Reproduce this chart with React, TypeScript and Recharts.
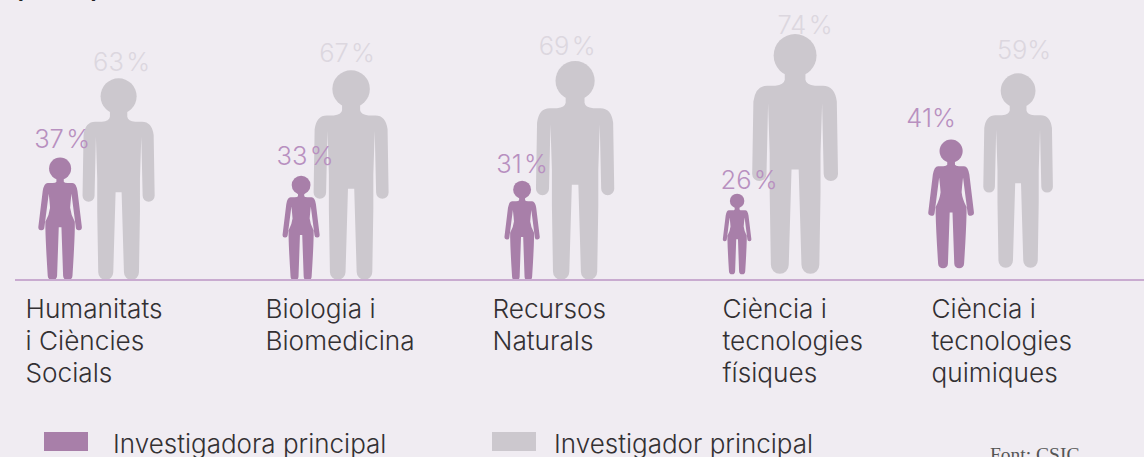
import React from "react";
import { BarChart, Bar, XAxis, YAxis, Legend } from "recharts";

const W = 1144, H = 457;
const categories = ["Humanitats\ni Ciències\nSocials", "Biologia i\nBiomedicina", "Recursos\nNaturals", "Ciència i\ntecnologies\nfísiques", "Ciència i\ntecnologies\nquimiques"];
const womenValues = [37, 33, 31, 26, 41];
const menValues = [63, 67, 69, 74, 59];
const womenLabels = ["37\u200a%", "33\u200a%", "31\u200a%", "26\u200a%", "41%"];
const menLabels = ["63\u200a%", "67\u200a%", "69\u200a%", "74\u200a%", "59%"];
const data = categories.map((category, i) => ({ category, women: womenValues[i], men: menValues[i] }));

// Layout / style adjustments of the hand-placed pictograms
const BG = "#f0ecf2", WOMAN = "#a87fa9", MAN = "#ccc8ce", WOMAN_TXT = "#b890c0", MAN_TXT = "#dcd7df", LINE = "#c9abd0", INK = "#333033";
const FONT = "Inter, sans-serif";
const groupLift = [0, 0, 0, 6, 12];
const womanNudge = [-67.9, -52.7, -57.5, -68.3, -80.1];
const manNudge = [-9.4, -2.7, -4.5, -10.3, -13.1];
const womanStature = [1.04, 0.994, 1.007, 0.971, 0.985];
const manStature = [1.006, 0.984, 0.997, 1.019, 1.037];
const womanLabelDx = [2, 4, 0, 12, -20];
const manLabelDx = [3, -4, -8, 10, 6];
const womanLabelGap = [10, 11, 8, 5, 13];
const manLabelGap = [7, 8, 6, 0, 14];
const tickNudge = [-102.4, -88.2, -87, -82.8, -99.6];

const MAN_BODY = "M26,100 L26,115 Q28,128 50,130 L70,130 Q100,130 105,170 L108,352 A18,18 0 0 1 72,352 L68,175 L64,300 L64,400 L61,581 A22.5,22.5 0 0 1 16,581 L9,341 L-9,341 L-16,581 A22.5,22.5 0 0 1 -61,581 L-64,400 L-64,300 L-68,175 L-72,352 A18,18 0 0 1 -108,352 L-105,170 Q-100,130 -70,130 L-50,130 Q-28,128 -26,115 L-26,100 Z";
const WOMAN_BODY = "M11,60 L11,72 Q13,76 22,76 L37,76 Q48,76 52,100 L65,207 A9,9 0 0 1 47,209 L34,108 Q31,135 30,150 Q32,170 44,192 L44,210 Q43,260 37,353 A14,14 0 0 1 9,353 L4,208 L-4,208 L-9,353 A14,14 0 0 1 -37,353 Q-43,260 -44,210 L-44,192 Q-32,170 -30,150 Q-31,135 -34,108 L-47,209 A9,9 0 0 1 -65,207 L-52,100 Q-48,76 -37,76 L-22,76 Q-13,76 -11,72 L-11,60 Z";

function figure(kind: "woman" | "man") {
  const isWoman = kind === "woman";
  const nudge = isWoman ? womanNudge : manNudge;
  const stature = isWoman ? womanStature : manStature;
  const labelDx = isWoman ? womanLabelDx : manLabelDx;
  const labelGap = isWoman ? womanLabelGap : manLabelGap;
  const labels = isWoman ? womenLabels : menLabels;
  const unit = isWoman ? 366 : 604;
  return (props: any) => {
    const { x, y, width, height, index, fill } = props;
    const cx = x + width / 2 + nudge[index];
    const bottom = y + height - groupLift[index];
    const h = height * stature[index];
    const top = bottom - h;
    const s = h / unit;
    return (
      <g>
        <text x={cx + labelDx[index]} y={top - labelGap[index]} textAnchor="middle" fontFamily={FONT} fontWeight={300} fontSize={25.5} fill={isWoman ? WOMAN_TXT : MAN_TXT}>
          {labels[index]}
        </text>
        <g transform={`translate(${cx},${top}) scale(${s})`} fill={fill}>
          {isWoman ? <circle cx={0} cy={33} r={33} /> : <circle cx={0} cy={54} r={54} />}
          <path d={isWoman ? WOMAN_BODY : MAN_BODY} />
        </g>
      </g>
    );
  };
}

const CategoryTick = (props: any) => {
  const { x, y, index, payload } = props;
  const lines = String(payload.value).split("\n");
  return (
    <text x={x + tickNudge[index]} y={y} fontFamily={FONT} fontWeight={300} fontSize={26.2} fill={INK}>
      {lines.map((l, i) => (
        <tspan key={i} x={x + tickNudge[index]} y={318 + i * 32}>{l}</tspan>
      ))}
    </text>
  );
};

const abs = (left: number, top: number, extra: React.CSSProperties = {}): React.CSSProperties => ({ position: "absolute", left, top, whiteSpace: "nowrap", ...extra });

const LegendContent = (props: any) => {
  const items = [...(props.payload ?? [])].sort((a: any) => (a.dataKey === "women" ? -1 : 1));
  const pos = [{ sw: 44, tx: 113 }, { sw: 492, tx: 554 }];
  return (
    <div>
      {items.map((it: any, i: number) => (
        <React.Fragment key={it.value}>
          <div style={abs(pos[i].sw, 432, { width: 44, height: 19, background: it.color })} />
          <div style={abs(pos[i].tx, 428, { fontFamily: FONT, fontWeight: 300, fontSize: 26, lineHeight: "32px", color: INK })}>{it.value}</div>
        </React.Fragment>
      ))}
      <div style={abs(990, 445, { fontFamily: "'Liberation Serif', serif", fontSize: 19.5, lineHeight: "20px", color: "#555" })}>Font: CSIC</div>
      <div style={abs(15, -23, { fontFamily: FONT, fontWeight: 700, fontSize: 22, lineHeight: "26px", color: "#222" })}>(</div>
      <div style={abs(91, -23, { fontFamily: FONT, fontWeight: 700, fontSize: 22, lineHeight: "26px", color: "#222" })}>)</div>
    </div>
  );
};

export default function App() {
  return (
    <div style={{ position: "fixed", left: 0, top: 0, width: W, height: H, background: BG, overflow: "hidden" }}>
      <BarChart width={W} height={H} data={data} margin={{ top: 0, right: 0, bottom: 0, left: 15 }} barSize={40} barGap={-40} barCategoryGap={0}>
        <YAxis hide domain={[0, 88]} />
        <XAxis dataKey="category" height={177} interval={0} tickLine={false} axisLine={{ stroke: LINE, strokeWidth: 2 }} tick={<CategoryTick />} />
        <Bar dataKey="men" name="Investigador principal" fill={MAN} isAnimationActive={false} shape={figure("man")} />
        <Bar dataKey="women" name="Investigadora principal" fill={WOMAN} isAnimationActive={false} shape={figure("woman")} />
        <Legend content={<LegendContent />} wrapperStyle={{ position: "absolute", left: 0, top: 0, width: W, height: 0 }} />
      </BarChart>
    </div>
  );
}
